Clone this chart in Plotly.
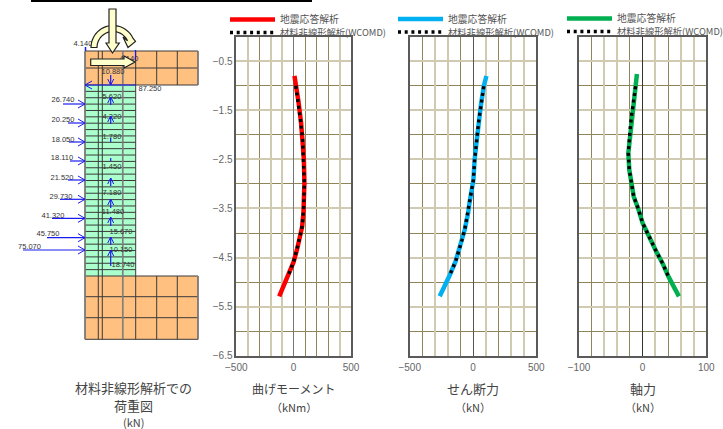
import math
import plotly.graph_objects as go

# ---------- data ----------
moment_depth = [-0.8, -1.0, -1.32, -1.76, -2.1, -2.5, -2.98, -3.47, -3.6, -3.87, -4.0, -4.18, -4.35, -4.6, -4.74, -4.88, -5.03, -5.29]
moment_resp = [7, 17, 42, 65, 80, 89, 94, 89, 85, 74, 62, 48, 28, -2, -28, -50, -80, -126]
moment_wcomd_depth = [-1.0, -1.32, -1.76, -2.1, -2.5, -2.98, -3.47, -3.6, -3.87, -4.0, -4.18, -4.35, -4.6, -4.74, -4.88]
moment_wcomd = [19, 40, 63, 78, 88, 93, 88, 84, 73, 62, 47, 27, -2, -27, -49]

shear_depth = [-0.8, -1.01, -1.42, -1.76, -2.17, -2.5, -2.92, -3.39, -3.6, -3.94, -4.14, -4.35, -4.59, -4.86, -5.1, -5.29]
shear_resp = [106, 85, 61, 43, 27, 13, 3, -28, -39, -66, -87, -113, -139, -184, -224, -263]
shear_wcomd_depth = [-1.01, -1.42, -1.76, -2.17, -2.5, -2.92, -3.39, -3.6, -3.94, -4.14, -4.35, -4.59, -4.86]
shear_wcomd = [85, 61, 43, 27, 13, 3, -28, -39, -66, -87, -113, -139, -184]

axial_depth = [-0.76, -1.01, -1.29, -1.56, -1.83, -2.1, -2.37, -2.71, -2.98, -3.26, -3.51, -3.8, -3.96, -4.18, -4.38, -4.61, -4.9, -5.29]
axial_resp = [-9, -11, -14.6, -17, -19.3, -21.4, -22.5, -21, -18, -14, -6.8, 0, 6, 13.7, 21.5, 31, 41, 57]
axial_wcomd_depth = [-1.01, -1.29, -1.56, -1.83, -2.1, -2.37, -2.71, -2.98, -3.26, -3.51, -3.8, -3.96, -4.18, -4.38, -4.61, -4.9]
axial_wcomd = [-11, -14.6, -17, -19.3, -21.4, -22.5, -21, -18, -14, -6.8, 0, 6, 13.7, 21.5, 31, 41]

series_names = ["地震応答解析", "材料非線形解析(WCOMD)"]
y_major_ticks = [-0.5, -1.5, -2.5, -3.5, -4.5, -5.5, -6.5]
y_minor_ticks = [-1, -2, -3, -4, -5, -6]

# load diagram (drawn in image pixels on a hidden overlay axis)
lateral_labels = ["26.740", "20.250", "18.050", "18.110", "21.520", "29.730", "41.320", "45.750", "75.070"]
lateral_y = [104, 123, 142, 161, 180, 199.3, 218.3, 237.7, 250]
lateral_start = [63, 68, 69, 70, 68, 60, 52, 47, 23]
lateral_label_x = [63, 63, 63, 62, 62, 61, 53, 48, 29.5]
lateral_label_y = [100, 120.5, 139.7, 158, 178, 197, 216, 234, 247.5]
axial_labels = ["10.880", "5.620", "4.220", "1.780", "1.450", "7.180", "11.480", "15.670", "10.150", "18.740"]
axial_label_x = [113, 112, 112, 112, 112, 112, 113, 121, 121, 123]
axial_label_y = [72.5, 97, 117, 137, 167.5, 193, 212, 232, 250, 265]
axial_arrow_from = [75, 105, 124, 142, 161, 186, 208, 226, 245, 266]
axial_arrow_to = [85, 97, 116, 138, 158, 178, 199, 217, 237, 250]
beam_columns = [85, 98.3, 102.3, 122.7, 135.7, 156.7, 177.3, 198]
col_columns = [85, 98.3, 102.3, 122.7, 135.7]
top_rows = [51, 68, 85]
bottom_rows = [276, 296.7, 317.7, 339.3]
n_col_rows = 30

# ---------- style ----------
FONT = "Liberation Sans, Noto Sans CJK JP, sans-serif"
CJK = "Noto Sans CJK JP, sans-serif"
TAN = "#CFCAB0"
OLIVE = "#8F8558"
FRAME = "#5a5a5a"
BLUE = "#1A1AF0"

panels = [
    dict(x=(236.3, 351), span=500, zero="#777777", thick=[-400, -200, -100, 400], thin=[-300, 100, 200, 300],
         xs=moment_resp, ys=moment_depth, dx=moment_wcomd, dy=moment_wcomd_depth, color="#FF0000", legend_x=225, legend_y=(5, 18),
         title="曲げモーメント", unit="（kNm）", title_size=12, legends=("legend", "legend2")),
    dict(x=(409.7, 536.3), span=500, zero="#555555", thick=[-300, -200, 100, 300, 400], thin=[-400, -100, 200],
         xs=shear_resp, ys=shear_depth, dx=shear_wcomd, dy=shear_wcomd_depth, color="#00B0F0", legend_x=393, legend_y=(4.5, 17.5),
         title="せん断力", unit="（kN）", title_size=13, legends=("legend3", "legend4")),
    dict(x=(579, 706.3), span=100, zero="#333333", thick=[-60, -40, 20, 60, 80], thin=[-80, -20, 40],
         xs=axial_resp, ys=axial_depth, dx=axial_wcomd, dy=axial_wcomd_depth, color="#00B050", legend_x=562, legend_y=(4, 17),
         title="軸力", unit="（kN）", title_size=13, legends=("legend5", "legend6")),
]

W, H = 723, 429
TOP, BOTTOM = 36.7, 355.7
fig = go.Figure()
layout = dict(
    width=W, height=H, margin=dict(l=0, r=0, t=0, b=0, autoexpand=False), paper_bgcolor="white",
    plot_bgcolor="rgba(0,0,0,0)", showlegend=True, font=dict(family=FONT, color="#555555"),
)
annotations = []

for i, p in enumerate(panels, start=1):
    xa, ya = ("x", "y") if i == 1 else (f"x{i}", f"y{i}")
    xk, yk = ("xaxis", "yaxis") if i == 1 else (f"xaxis{i}", f"yaxis{i}")
    s = p["span"]
    major = sorted(set([-s] + p["thick"] + [0, s]))
    layout[xk] = dict(
        domain=[p["x"][0] / W, p["x"][1] / W], range=[-s, s], anchor=ya, fixedrange=True,
        tickmode="array", tickvals=major,
        ticktext=[(f"−{s}" if v == -s else str(s) if v == s else "0" if v == 0 else "") for v in major],
        showgrid=True, gridcolor=TAN, gridwidth=2,
        minor=dict(tickmode="array", tickvals=p["thin"], showgrid=True, gridcolor=OLIVE, gridwidth=1.2, ticks=""),
        zeroline=True, zerolinecolor=p["zero"], zerolinewidth=1.4,
        showline=True, mirror=True, linecolor=FRAME, linewidth=1.6, ticks="",
        tickfont=dict(size=10, color="#666666", family=FONT), ticklabelstandoff=1,
    )
    layout[yk] = dict(
        domain=[1 - BOTTOM / H, 1 - TOP / H], range=[-6.5, 0], anchor=xa, fixedrange=True,
        tickmode="array", tickvals=y_major_ticks, ticktext=[f"−{abs(v)}" for v in y_major_ticks],
        showticklabels=(i == 1),
        showgrid=True, gridcolor=TAN, gridwidth=2,
        minor=dict(tickmode="array", tickvals=y_minor_ticks, showgrid=True, gridcolor=OLIVE, gridwidth=1.2, ticks=""),
        zeroline=False, showline=True, mirror=True, linecolor=FRAME, linewidth=1.6, ticks="",
        tickfont=dict(size=10, color="#666666", family=FONT),
    )
    fig.add_trace(go.Scatter(x=p["xs"], y=p["ys"], mode="lines", xaxis=xa, yaxis=ya, name=series_names[0],
                             legend=p["legends"][0], line=dict(color=p["color"], width=4.5), hoverinfo="skip"))
    fig.add_trace(go.Scatter(x=p["dx"], y=p["dy"], mode="lines", xaxis=xa, yaxis=ya, name=series_names[1],
                             legend=p["legends"][1], line=dict(color="black", width=3.4, dash="3px,3.7px"), hoverinfo="skip"))
    for name, ly, fs in zip(p["legends"], p["legend_y"], (9.8, 9.3)):
        layout[name] = dict(
            x=p["legend_x"] / W, y=1 - ly / H, xanchor="left", yanchor="top", bgcolor="rgba(0,0,0,0)",
            itemwidth=45, font=dict(size=fs, family=CJK, color="#555555"),
            itemclick=False, itemdoubleclick=False,
        )
    cx = sum(p["x"]) / 2
    annotations += [
        dict(x=cx, y=388, xref="x4", yref="y4", text=p["title"], showarrow=False,
             font=dict(size=p["title_size"], family=CJK, color="#444444")),
        dict(x=cx, y=407, xref="x4", yref="y4", text=p["unit"], showarrow=False,
             font=dict(size=11, family=CJK, color="#444444")),
    ]

# overlay axis in image pixels for the load diagram
hidden = dict(visible=False, fixedrange=True, domain=[0, 1])
layout["xaxis4"] = dict(hidden, range=[0, W], anchor="y4")
layout["yaxis4"] = dict(hidden, range=[H, 0], anchor="x4")


def rect(x0, y0, x1, y1, fill, line="rgba(0,0,0,0)", lw=0, layer="below"):
    return dict(type="rect", xref="x4", yref="y4", x0=x0, y0=y0, x1=x1, y1=y1, fillcolor=fill,
                line=dict(color=line, width=lw), layer=layer)


def seg(x0, y0, x1, y1, color="#3a3a3a", lw=1.0, layer="below"):
    return dict(type="line", xref="x4", yref="y4", x0=x0, y0=y0, x1=x1, y1=y1,
                line=dict(color=color, width=lw), layer=layer)


def poly(pts, fill="#FFFFCC", line="#222222", lw=1.2):
    d = "M" + " L".join(f"{a:.2f},{b:.2f}" for a, b in pts) + " Z"
    return dict(type="path", xref="x4", yref="y4", path=d, fillcolor=fill,
                line=dict(color=line, width=lw), layer="above")


shapes = [rect(31, 0, 312, 2, "black", layer="above")]
ORANGE, GREEN = "#FFC080", "#AAFFCC"
col_top, col_bot = top_rows[-1], bottom_rows[0]
shapes += [rect(85, top_rows[0], 198, top_rows[-1], ORANGE),
           rect(85, col_top, 135.7, col_bot, GREEN),
           rect(85, bottom_rows[0], 198, bottom_rows[-1], ORANGE)]
for r in top_rows + bottom_rows:
    shapes.append(seg(85, r, 198, r))
for k in range(1, n_col_rows):
    r = col_top + (col_bot - col_top) * k / n_col_rows
    shapes.append(seg(85, r, 135.7, r))
for c in beam_columns:
    shapes.append(seg(c, top_rows[0], c, top_rows[-1]))
    shapes.append(seg(c, bottom_rows[0], c, bottom_rows[-1]))
for c in col_columns:
    shapes.append(seg(c, col_top, c, col_bot))
for c in (85, 122.7, 198):
    for a, b in ((top_rows[0], top_rows[-1]), (bottom_rows[0], bottom_rows[-1])):
        shapes.append(seg(c, a, c, b, color="#808080", lw=1.5))
shapes.append(seg(85, col_top, 85, col_bot, color="#808080", lw=1.5))
shapes.append(seg(122.7, col_top, 122.7, col_bot, color="#808080", lw=1.5))

# large applied-load arrows
cx0, cy0, ro, ri = 113, 47.5, 22, 16
angles = [math.radians(180 - t * 155 / 24) for t in range(25)]
outer = [(cx0 + ro * math.cos(a), cy0 - ro * math.sin(a)) for a in angles]
inner = [(cx0 + ri * math.cos(a), cy0 - ri * math.sin(a)) for a in reversed(angles)]
shapes.append(poly(outer + [(135.5, 41.5), (128, 47.5), (123, 37)] + inner))
shapes.append(poly([(109, 9), (116, 9), (116, 43), (119.3, 43), (112.5, 53), (106, 43), (109, 43)]))
shapes.append(poly([(90.7, 59), (124, 59), (124, 56), (135, 62), (124, 68), (124, 65.5), (90.7, 65.5)]))

# blue force arrows
def head(tx, ty, dx, dy, size=7, half=4):
    if dx:
        return [seg(tx, ty, tx - dx * size, ty - half, BLUE, 1, "above"), seg(tx, ty, tx - dx * size, ty + half, BLUE, 1, "above")]
    return [seg(tx, ty, tx - half, ty - dy * size, BLUE, 1, "above"), seg(tx, ty, tx + half, ty - dy * size, BLUE, 1, "above")]


for sx, ly in zip(lateral_start, lateral_y):
    shapes.append(seg(sx, ly, 85, ly, BLUE, 1.2, "above"))
    shapes += head(85, ly, 1, 0)
shapes.append(seg(85, 85, 135.7, 85, BLUE, 1.2, "above"))
shapes += head(85, 85, -1, 0)
for a, b in zip(axial_arrow_from, axial_arrow_to):
    shapes.append(seg(110.7, a, 110.7, b, BLUE, 1.2, "above"))
    d = 1 if b > a else -1
    if abs(b - a) > 6:
        shapes += head(110.7, b, 0, d, size=6, half=3)
shapes.append(seg(85.5, 47, 85.5, 51, BLUE, 1.5, "above"))
shapes.append(seg(135.5, 50, 135.5, 60, BLUE, 1.2, "above"))

fig.add_trace(go.Scatter(
    x=lateral_label_x + axial_label_x + [83, 129, 150],
    y=lateral_label_y + axial_label_y + [44.5, 59, 89.5],
    text=lateral_labels + axial_labels + ["4.140", "4.140", "87.250"],
    mode="text", xaxis="x4", yaxis="y4", showlegend=False, hoverinfo="skip",
    textfont=dict(size=7.5, color="#333333", family=FONT),
))

annotations += [
    dict(x=133, y=387, xref="x4", yref="y4", text="材料非線形解析での", showarrow=False,
         font=dict(size=13, family=CJK, color="#444444")),
    dict(x=133, y=405, xref="x4", yref="y4", text="荷重図", showarrow=False,
         font=dict(size=13, family=CJK, color="#444444")),
    dict(x=133, y=422, xref="x4", yref="y4", text="(kN)", showarrow=False,
         font=dict(size=11, family=CJK, color="#444444")),
]

layout["shapes"] = shapes
layout["annotations"] = annotations
fig.update_layout(**layout)
fig.write_html("out.html", config={"displayModeBar": False},
               post_script="document.documentElement.style.margin='0';document.body.style.margin='0';")
